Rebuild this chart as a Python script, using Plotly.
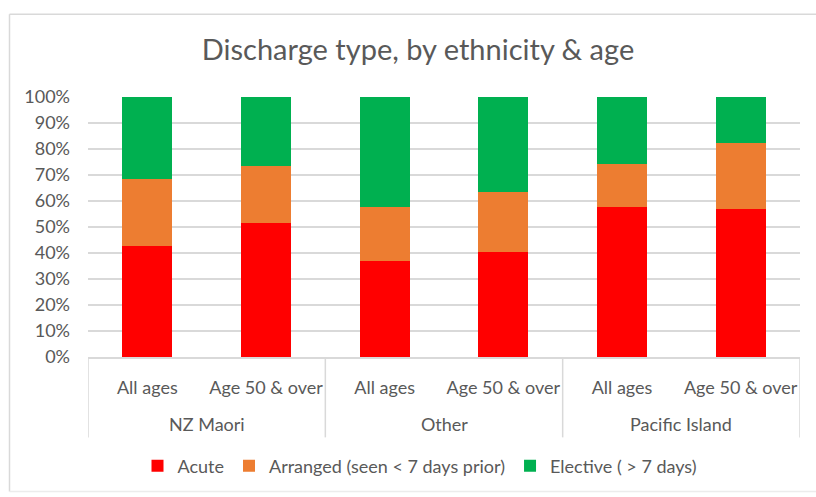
import plotly.graph_objects as go

# Discharge mix (%) per ethnicity / age group
ethnicity_groups = ["NZ Maori", "Other", "Pacific Island"]
age_group = ["All ages", "Age 50 & over", "All ages", "Age 50 & over", "All ages", "Age 50 & over"]

acute = [42.8, 51.6, 37.0, 40.5, 57.8, 56.9]
arranged = [25.8, 22.0, 20.6, 22.9, 16.6, 25.3]
elective = [31.4, 26.4, 42.4, 36.6, 25.6, 17.8]

y_ticks = [0, 10, 20, 30, 40, 50, 60, 70, 80, 90, 100]
y_tick_text = [f"{v}%" for v in y_ticks]

FONT = "Lato"
TEXT = "#595959"
GRID = "#d9d9d9"
WIDTH, HEIGHT = 816, 497
PLOT_LEFT, PLOT_RIGHT = 88, 800
PLOT_TOP, PLOT_BOTTOM = 97, 359
PLOT_W = PLOT_RIGHT - PLOT_LEFT
PLOT_H = PLOT_BOTTOM - PLOT_TOP

# bar slots along the category axis; each ethnicity spans two age groups
slots = list(range(len(age_group)))
per_group = len(age_group) // len(ethnicity_groups)


def paper_x(px):
    """Convert a pixel column of the page to the plot's paper coordinate."""
    return (px - PLOT_LEFT) / PLOT_W


def paper_y(px):
    """Convert a pixel row of the page to the plot's paper coordinate."""
    return (PLOT_BOTTOM - px) / PLOT_H


series = [
    ("Acute", acute, "#ff0000"),
    ("Arranged (seen < 7 days prior)", arranged, "#ed7d31"),
    ("Elective ( > 7 days)", elective, "#00b050"),
]

fig = go.Figure()
for name, vals, color in series:
    fig.add_trace(go.Bar(
        x=slots,
        y=vals,
        name=name,
        marker=dict(color=color, line=dict(width=0)),
    ))

# ethnicity labels beneath the age-group labels, with dividers between groups
annotations = []
shapes = []
for g, label in enumerate(ethnicity_groups):
    centre = g * per_group + (per_group - 1) / 2
    annotations.append(dict(
        text=label, x=centre, xref="x", y=paper_y(427), yref="paper",
        xanchor="center", yanchor="middle", showarrow=False,
        font=dict(family=FONT, size=18, color=TEXT),
    ))
for b in range(len(ethnicity_groups) + 1):
    shapes.append(dict(
        type="line", xref="x", yref="paper",
        x0=b * per_group - 0.5, x1=b * per_group - 0.5,
        y0=0, y1=paper_y(440),
        line=dict(color=GRID, width=1.5),
    ))

# chart frame: top, left and bottom edges (the right edge runs off the page)
frame = dict(xref="paper", yref="paper", type="line", layer="below",
             line=dict(color=GRID, width=1.5))
left, right = paper_x(9.5), paper_x(WIDTH + 5)
top, bottom = paper_y(13.5), paper_y(494.5)
shapes += [
    dict(frame, x0=left, x1=right, y0=top, y1=top),
    dict(frame, x0=left, x1=left, y0=bottom, y1=top),
    dict(frame, x0=left, x1=right, y0=bottom, y1=bottom,
         line=dict(color="#ececec", width=1.5)),
]

fig.update_layout(
    barmode="stack",
    bargap=0.58,
    width=WIDTH,
    height=HEIGHT,
    margin=dict(l=PLOT_LEFT, r=WIDTH - PLOT_RIGHT, t=PLOT_TOP, b=HEIGHT - PLOT_BOTTOM),
    paper_bgcolor="white",
    plot_bgcolor="white",
    font=dict(family=FONT, color=TEXT, size=18),
    title=dict(
        text="Discharge type, by ethnicity & age",
        x=418 / WIDTH, xref="container", xanchor="center",
        y=1 - 50 / HEIGHT, yref="container", yanchor="middle",
        font=dict(family=FONT, size=29, color=TEXT),
    ),
    xaxis=dict(
        range=[-0.5, len(slots) - 0.5],
        tickvals=slots,
        ticktext=age_group,
        showline=True, linecolor=GRID, linewidth=1.5,
        showgrid=False, zeroline=False,
        tickfont=dict(family=FONT, size=18, color=TEXT),
        ticklabelstandoff=14,
        automargin=False,
    ),
    yaxis=dict(
        range=[0, 100],
        tickvals=y_ticks,
        ticktext=y_tick_text,
        showgrid=True, gridcolor=GRID, gridwidth=1.5,
        zeroline=False, showline=False,
        tickfont=dict(family=FONT, size=18, color=TEXT),
        ticklabelstandoff=17,
        automargin=False,
    ),
    legend=dict(
        orientation="h",
        x=paper_x(420), xanchor="center",
        y=paper_y(469), yanchor="middle",
        font=dict(family=FONT, size=18, color=TEXT),
        itemwidth=30,
        traceorder="normal",
    ),
    annotations=annotations,
    shapes=shapes,
)

fig.write_html("out.html")
